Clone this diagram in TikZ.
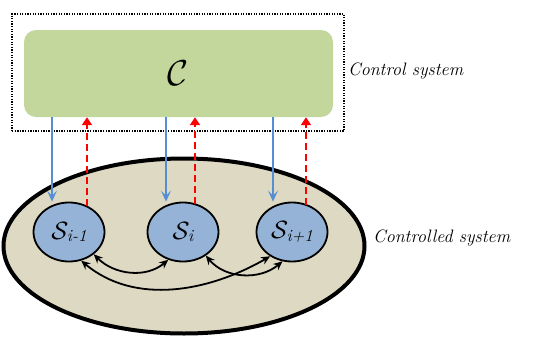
\RequirePackage{fix-cm}
\documentclass[tikz,border=0pt]{standalone}
\usetikzlibrary{arrows.meta,shapes.geometric}
\definecolor{ctrlgreen}{HTML}{C3D69B}
\definecolor{subblue}{HTML}{95B3D7}
\definecolor{sysbeige}{HTML}{DDD9C3}
\definecolor{arrblue}{HTML}{558ED5}
\newcommand{\subname}[1]{{\fontsize{25}{28}\selectfont$\mathcal{S}$}\kern-1.5pt\raisebox{-2.5pt}{\fontsize{17}{18}\selectfont\itshape #1}}
\begin{document}
\begin{tikzpicture}[x=1pt,y=1pt,
  outerbox/.style={draw, line width=1.3pt, dash pattern=on 1.3pt off 1.3pt, minimum width=332pt, minimum height=117pt, inner sep=0pt},
  ctrlbox/.style={fill=ctrlgreen, rounded corners=12pt, minimum width=309pt, minimum height=87pt, inner sep=0pt},
  sysell/.style={ellipse, draw, line width=4pt, fill=sysbeige, minimum width=361pt, minimum height=175pt, inner sep=0pt},
  subsys/.style={ellipse, draw, line width=1.8pt, fill=subblue, minimum width=71pt, minimum height=59pt, inner sep=0pt},
  bluearr/.style={draw=arrblue, line width=1.8pt, -{Stealth[length=11pt,width=10pt,inset=5pt]}},
  redarr/.style={draw=red, line width=1.8pt, dash pattern=on 7pt off 4pt, -{Triangle[length=8pt,width=10pt]}},
  dblarr/.style={draw=black, line width=1.8pt, {Stealth[length=9pt,width=8pt]}-{Stealth[length=9pt,width=8pt]}},
  lbl/.style={font=\fontsize{18}{20}\selectfont\itshape, anchor=west, inner sep=0pt}
]
\useasboundingbox (0,0) rectangle (538,-340);
\node[outerbox] (outer) at (178,-72.5) {};
\node[ctrlbox] (ctrl) at (178.5,-73.5) {\fontsize{36}{40}\selectfont$\mathcal{C}$};
\node[lbl] (ctrllbl) at (348,-71) {Control system};
\node[sysell] (sys) at (184,-246) {};
\node[lbl] (syslbl) at (373,-238) {Controlled system};
\node[subsys] (s1) at (69,-232) {\subname{i-1}};
\node[subsys] (s2) at (183,-232) {\subname{i}};
\node[subsys] (s3) at (292,-232) {\subname{i+1}};
% coordinates for vertical links
\path ([xshift=-17pt]s1.north) coordinate (b1)
      ([xshift=-17pt]s2.north) coordinate (b2)
      ([xshift=-19pt]s3.north) coordinate (b3)
      ([shift={(18pt,-4pt)}]s1.north) coordinate (r1)
      ([shift={(12pt,-2pt)}]s2.north) coordinate (r2)
      ([shift={(14pt,-3pt)}]s3.north) coordinate (r3);
\draw[bluearr] (b1 |- ctrl.south) -- (b1);
\draw[bluearr] (b2 |- ctrl.south) -- (b2);
\draw[bluearr] (b3 |- ctrl.south) -- (b3);
\draw[redarr] (r1) -- (r1 |- ctrl.south);
\draw[redarr] (r2) -- (r2 |- ctrl.south);
\draw[redarr] (r3) -- (r3 |- ctrl.south);
% interactions
\draw[dblarr] (s1.-42) to[out=-45, in=-140] (s2.-118);
\draw[dblarr] (s2.-46) to[out=-50, in=-140] (s3.-108);
\draw[dblarr] (s1.-67) to[out=-40, in=-150, looseness=0.95] (s3.-132);
\end{tikzpicture}
\end{document}
